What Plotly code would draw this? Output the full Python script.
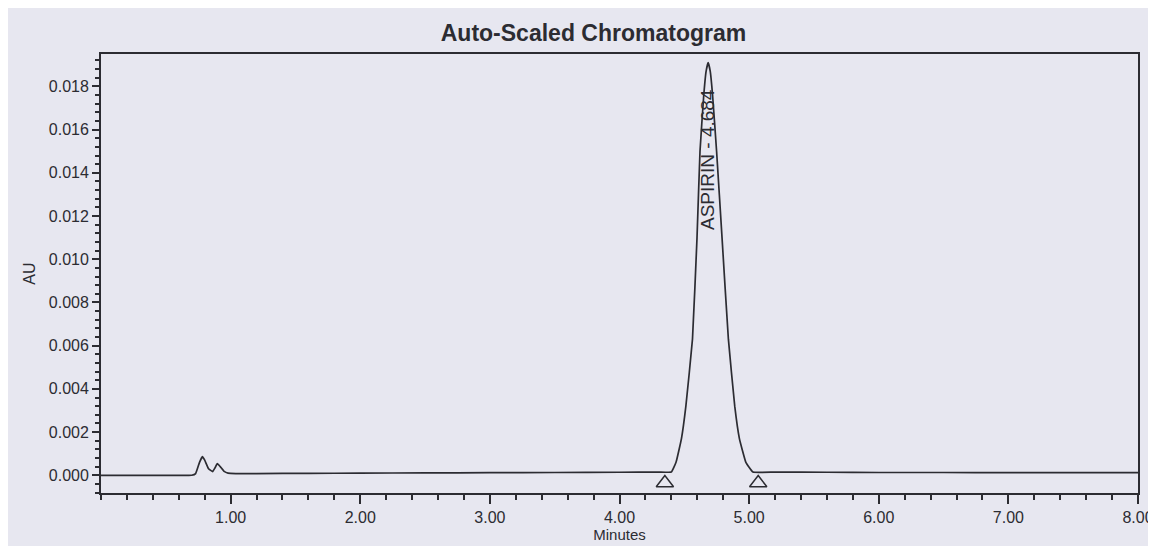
import plotly.graph_objects as go

# Chromatogram trace (minutes, AU)
minutes = [0.00, 0.40, 0.70, 0.73, 0.76, 0.782, 0.80, 0.83, 0.862, 0.88, 0.897, 0.92, 0.95, 0.98, 1.04,
           1.20, 1.60, 2.00, 2.50, 3.00, 3.50, 4.00, 4.30, 4.40,
           4.436, 4.478, 4.512, 4.563, 4.598, 4.621, 4.650, 4.668, 4.684, 4.700, 4.718, 4.749, 4.791, 4.840,
           4.889, 4.925, 4.975, 5.03, 5.20, 5.60, 6.00, 6.50, 7.00, 7.50, 8.00]
absorbance = [0.0, 0.0, 0.0, 0.00008, 0.0006, 0.00086, 0.0007, 0.0003, 0.00017, 0.00035, 0.00054, 0.0004,
              0.00018, 0.0001, 0.00008,
              0.00008, 0.00009, 0.0001, 0.00011, 0.00012, 0.00013, 0.00014, 0.00015, 0.00015,
              0.0006, 0.0017, 0.0032, 0.0063, 0.0110, 0.0150, 0.0176, 0.0187, 0.0191, 0.0187, 0.0176, 0.0150,
              0.0110, 0.0063, 0.0032, 0.0017, 0.0006, 0.00015, 0.00015, 0.00014, 0.00013, 0.00013, 0.00012,
              0.00012, 0.00012]

# Integration start / end markers
marker_minutes = [4.35, 5.07]
marker_au = [-0.00036, -0.00036]

peak_name = "ASPIRIN - 4.684"
peak_time = 4.684
label_au = 0.0146

x_ticks = [1, 2, 3, 4, 5, 6, 7, 8]
y_ticks = [0.000, 0.002, 0.004, 0.006, 0.008, 0.010, 0.012, 0.014, 0.016, 0.018]

ink = "#2c2c32"
paper = "#e7e7f0"
font_family = "Liberation Sans, Arial, sans-serif"

fig = go.Figure()
fig.add_trace(go.Scatter(x=minutes, y=absorbance, mode="lines",
                         line=dict(color=ink, width=1.7, shape="spline", smoothing=0.3),
                         showlegend=False, hoverinfo="skip"))
fig.add_trace(go.Scatter(x=marker_minutes, y=marker_au, mode="markers",
                         marker=dict(symbol="triangle-up-open", size=15, color=ink,
                                     line=dict(width=1.5, color=ink)),
                         showlegend=False, hoverinfo="skip"))

fig.add_annotation(x=peak_time, y=label_au, text=peak_name, textangle=-90, showarrow=False,
                   font=dict(family=font_family, size=19, color=ink))

# page body has an 8px margin, so the figure is sized to fit the 1156x546 window
fig.update_layout(
    width=1148, height=538,
    margin=dict(l=93, r=18, t=46, b=53),
    paper_bgcolor=paper, plot_bgcolor=paper,
    font=dict(family=font_family, color=ink),
    title=dict(text="<b>Auto-Scaled Chromatogram</b>", x=0.510, xanchor="center",
               y=0.953, yanchor="middle", font=dict(size=23, color=ink)),
    xaxis=dict(range=[0, 8], tickmode="array", tickvals=x_ticks, tickformat=".2f",
               ticks="outside", ticklen=9, tickwidth=1.7, tickcolor=ink,
               minor=dict(tickmode="linear", tick0=0, dtick=0.2, ticks="outside", ticklen=5,
                          tickwidth=1.7, tickcolor=ink),
               showline=True, mirror=True, linecolor=ink, linewidth=1.8,
               showgrid=False, zeroline=False, automargin=False,
               tickfont=dict(size=16, color=ink),
               title=dict(text="Minutes", standoff=0, font=dict(size=15, color=ink))),
    yaxis=dict(range=[-0.00082, 0.0195], tickmode="array", tickvals=y_ticks, tickformat=".3f",
               ticks="outside", ticklen=7, tickwidth=1.7, tickcolor=ink,
               minor=dict(tickmode="linear", tick0=0, dtick=0.0004, ticks="outside", ticklen=4,
                          tickwidth=1.7, tickcolor=ink),
               showline=True, mirror=True, linecolor=ink, linewidth=1.8,
               showgrid=False, zeroline=False, automargin=False,
               tickfont=dict(size=16, color=ink),
               title=dict(text="AU", standoff=9, font=dict(size=16, color=ink))),
)

fig.write_html("out.html")
